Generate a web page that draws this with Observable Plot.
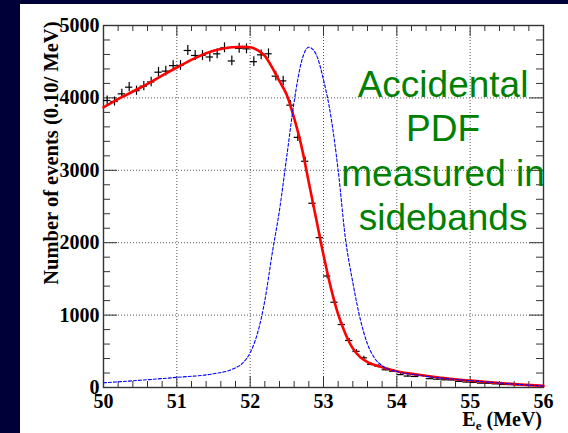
<!DOCTYPE html>
<html><head><meta charset="utf-8">
<script src="https://cdn.jsdelivr.net/npm/d3@7"></script>
<script src="https://cdn.jsdelivr.net/npm/@observablehq/plot@0.6"></script>
<style>
html,body{margin:0;padding:0;background:#000038;width:568px;height:433px;overflow:hidden;}
#panel{position:absolute;left:20px;top:4px;width:548px;height:429px;background:#fff;}
</style></head><body><div id="panel"></div>
<script>
// Histogram: 60 bins of 0.10 MeV from 50 to 56 MeV
const binLow = 50, binWidth = 0.1;
const counts = [
  3964, 3950, 4056, 4148, 4100, 4162, 4220, 4355, 4370, 4445,
  4448, 4655, 4586, 4586, 4565, 4609, 4692, 4510, 4685, 4678,
  4500, 4595, 4609, 4300, 4235, 3900, 3455, 3125, 2545, 2070,
  1540, 1178, 870, 650, 500, 410, 320, 295, 245, 225,
  178, 158, 152, 166, 122, 115, 106, 104, 85, 75,
  70, 60, 58, 50, 42, 40, 36, 32, 28, 25
];
// Fit curve (red)
const fitE = [50.0, 50.25, 50.5, 50.75, 51.0, 51.25, 51.5, 51.75, 51.9, 52.0, 52.1, 52.2, 52.3, 52.4, 52.5, 52.6, 52.7, 52.8, 52.9, 53.0, 53.1, 53.2, 53.3, 53.4, 53.5, 53.6, 53.8, 54.0, 54.3, 54.6, 55.0, 55.4, 55.7, 56.0];
const fitV = [3870, 4010, 4140, 4280, 4420, 4550, 4650, 4700, 4705, 4700, 4660, 4580, 4420, 4230, 4040, 3720, 3330, 2830, 2330, 1830, 1380, 1010, 740, 540, 420, 350, 280, 225, 175, 135, 95, 62, 40, 22];
// Signal PDF (blue dashed)
const pdfE = [50.0, 50.5, 51.0, 51.5, 51.75, 51.9, 52.0, 52.1, 52.2, 52.3, 52.4, 52.5, 52.6, 52.7, 52.8, 52.9, 53.0, 53.1, 53.2, 53.3, 53.4, 53.5, 53.6, 53.7, 53.8, 54.0, 54.3, 54.6, 55.0, 55.4, 55.7, 56.0];
const pdfV = [65, 100, 140, 190, 250, 340, 480, 750, 1200, 1850, 2450, 3200, 3950, 4500, 4700, 4600, 4250, 3750, 3000, 2050, 1450, 950, 600, 400, 300, 220, 170, 130, 95, 62, 40, 20];

const majorX = [50, 51, 52, 53, 54, 55, 56];
const xLabels = ["50", "51", "52", "53", "54", "55", "56"];
const majorY = [0, 1000, 2000, 3000, 4000, 5000];
const yLabels = ["0", "1000", "2000", "3000", "4000", "5000"];
const minorX = d3.range(0, 31).map(i => +(50 + i * 0.2).toFixed(1)).filter(v => !majorX.includes(v));
const minorY = d3.range(0, 26).map(i => i * 200).filter(v => !majorY.includes(v));
const annotation = "Accidental\nPDF\nmeasured in\nsidebands";
const annotX = 54.63, annotY = 4448;

const bins = counts.map((v, i) => ({e: +(binLow + binWidth * (i + 0.5)).toFixed(2), v}));
const fit = fitE.map((e, i) => ({e, v: fitV[i]}));
const pdf = pdfE.map((e, i) => ({e, v: pdfV[i]}));

const W = 548, H = 429, mL = 83, mR = 25, mT = 21, mB = 46;
const fw = W - mL - mR, fh = H - mT - mB;
const axisColor = "#333";
const serif = "'Liberation Serif', 'Times New Roman', serif";

const chart = Plot.plot({
  width: W, height: H,
  marginLeft: mL, marginRight: mR, marginTop: mT, marginBottom: mB,
  style: {background: "transparent", fontFamily: serif, fontSize: "20px", fontWeight: "bold", overflow: "visible"},
  x: {domain: [50, 56], axis: null},
  y: {domain: [0, 5000], axis: null},
  marks: [
    Plot.gridX(majorX.slice(1, -1), {stroke: "#444", strokeOpacity: 0.9, strokeDasharray: "1,2"}),
    Plot.gridY(majorY.slice(1, -1), {stroke: "#444", strokeOpacity: 0.9, strokeDasharray: "1,2"}),
    // ticks (inward, on all four sides)
    Plot.tickX(majorX, {x: d => d, insetTop: fh - 11, stroke: axisColor}),
    Plot.tickX(minorX, {x: d => d, insetTop: fh - 6, stroke: axisColor}),
    Plot.tickX(majorX, {x: d => d, insetBottom: fh - 11, stroke: axisColor}),
    Plot.tickX(minorX, {x: d => d, insetBottom: fh - 6, stroke: axisColor}),
    Plot.tickY(majorY, {y: d => d, insetRight: fw - 14, stroke: axisColor}),
    Plot.tickY(minorY, {y: d => d, insetRight: fw - 7, stroke: axisColor}),
    Plot.tickY(majorY, {y: d => d, insetLeft: fw - 14, stroke: axisColor}),
    Plot.tickY(minorY, {y: d => d, insetLeft: fw - 7, stroke: axisColor}),
    Plot.axisX(majorX, {tickSize: 0, tickPadding: 6, tickFormat: (d, i) => xLabels[i], label: null, fill: "#000",
      fontSize: 20, fontWeight: "bold", fontFamily: serif}),
    Plot.axisY(majorY, {tickSize: 0, tickPadding: 4, tickFormat: (d, i) => yLabels[i], label: null, fill: "#000",
      fontSize: 20, fontWeight: "bold", fontFamily: serif}),
    Plot.frame({stroke: axisColor, strokeWidth: 1.4}),
    // data points with error bars
    Plot.ruleY(bins, {y: "v", x1: d => d.e - binWidth / 2, x2: d => d.e + binWidth / 2, stroke: "#000", strokeWidth: 1.2}),
    Plot.ruleX(bins, {x: "e", y1: d => d.v - Math.sqrt(d.v), y2: d => d.v + Math.sqrt(d.v), stroke: "#000", strokeWidth: 1.2}),
    Plot.line(fit, {x: "e", y: "v", stroke: "#ff0000", strokeWidth: 2.6, curve: "monotone-x"}),
    Plot.line(pdf, {x: "e", y: "v", stroke: "#0000ff", strokeWidth: 1.1, strokeDasharray: "3,2", curve: "monotone-x"}),
    Plot.text([annotation], {x: () => annotX, y: () => annotY, text: d => d, lineAnchor: "top", lineHeight: 1.2, textAnchor: "middle",
      fill: "#008000", fontSize: 37, fontWeight: "normal", fontFamily: "'Liberation Sans', Arial, sans-serif"}),
    Plot.text(["Number of events (0.10/ MeV)"], {frameAnchor: "top-left", text: d => d, rotate: -90, textAnchor: "end",
      dx: -60, dy: -4, fontSize: 20.5, fontWeight: "bold", fill: "#000", fontFamily: serif})
  ]
});

// x-axis title with subscript
const svg = d3.select(chart);
const t = svg.append("text")
  .attr("x", W - mR - 1).attr("y", H - 7)
  .attr("text-anchor", "end")
  .attr("font-size", 20).attr("font-weight", "bold")
  .attr("font-family", serif).attr("fill", "#000");
t.append("tspan").text("E");
t.append("tspan").attr("font-size", 13).attr("dy", 4).text("e");
t.append("tspan").attr("dy", -4).text(" (MeV)");

document.getElementById("panel").appendChild(chart);
</script>
</body></html>
